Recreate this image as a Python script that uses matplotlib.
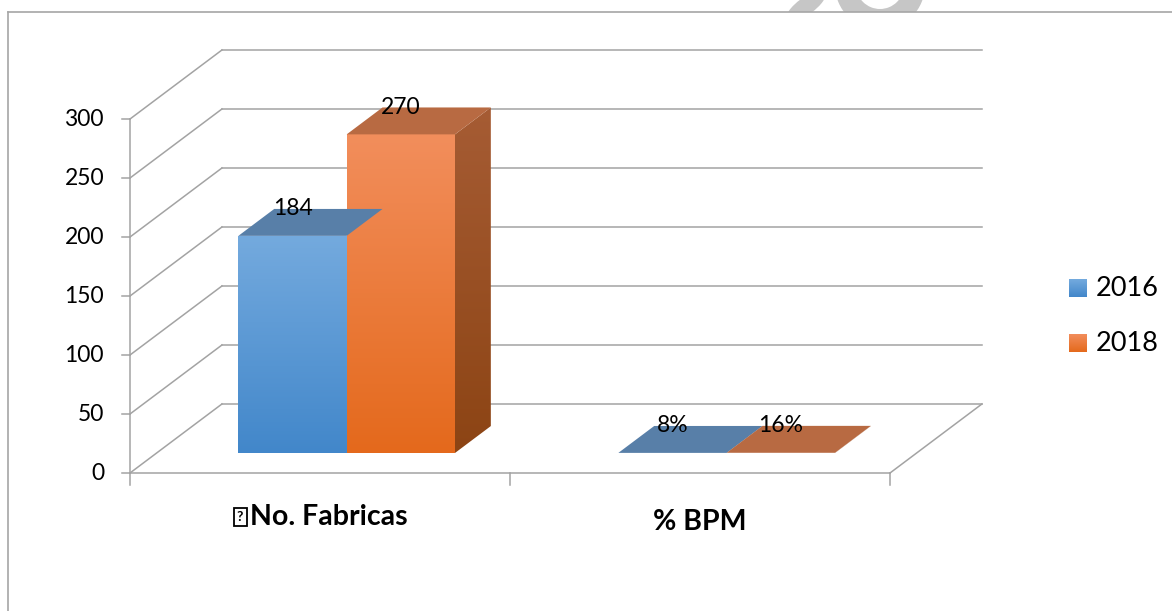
import numpy as np
import matplotlib
matplotlib.use("Agg")
from matplotlib import pyplot as plt
from matplotlib.patches import Polygon, Rectangle, Wedge, Ellipse
from matplotlib.lines import Line2D
from matplotlib.colors import to_rgb

plt.rcParams['font.family'] = ['Lato', 'DejaVu Sans']

# data
categories = ['No. Fabricas', '% BPM']
series_names = ['2016', '2018']
values = {
    '2016': [184, 0.08],
    '2018': [270, 0.16],
}
labels = {
    '2016': ['184', '8%'],
    '2018': ['270', '16%'],
}
y_ticks = [0, 50, 100, 150, 200, 250, 300]

# face colours: (front top, front bottom, top face, side top, side bottom)
palette = {
    '2016': ('#74aade', '#4287ca', '#587fa8', '#4d6f96', '#3c5e84'),
    '2018': ('#f28e5c', '#e4691c', '#b86a42', '#a65c34', '#8c4414'),
}

# oblique projection: depth d in [0, 1] shifts right and up
DX, DY = 0.242, 58.5
D0, D1 = 0.29, 0.68          # front / back of the bars
BAR_W = 0.285
GRID = '#a3a3a3'


def proj(u, v, d):
    return u + DX * d, v + DY * d


def gradient_poly(ax, verts, c_top, c_bot):
    verts = np.asarray(verts)
    x0, x1 = verts[:, 0].min(), verts[:, 0].max()
    y0, y1 = verts[:, 1].min(), verts[:, 1].max()
    t = np.linspace(0, 1, 256)[:, None]
    a, b = np.array(to_rgb(c_top)), np.array(to_rgb(c_bot))
    img = (a * (1 - t) + b * t)[:, None, :]
    poly = Polygon(verts, closed=True, fc='none', ec='none')
    ax.add_patch(poly)
    im = ax.imshow(img, extent=(x0, x1, y0, y1), aspect='auto',
                   origin='upper', interpolation='bilinear', zorder=3)
    im.set_clip_path(poly)


W, H = 1172, 611
fig = plt.figure(figsize=(W / 100, H / 100), dpi=100)

# faint watermark behind the chart frame
bg = fig.add_axes([0, 0, 1, 1], zorder=-1)
bg.set_xlim(0, W)
bg.set_ylim(H, 0)
bg.axis('off')
strip = Rectangle((0, 0), W, 12, transform=bg.transData)
for p in (Wedge((880, -15), 45, 0, 360, width=21),
          Ellipse((806, 6), 46, 17, angle=-35)):
    p.set_facecolor('#c6c6c6')
    p.set_edgecolor('none')
    bg.add_patch(p)
    p.set_clip_path(strip)

ax = fig.add_axes([0, 0, 1, 1])
ax.patch.set_alpha(0)
# front plane: u 0..2 -> x px 130..890, value 0..300 -> y px 473..119
PX_U, PX_V = 380.0, 59.0 / 50.0
X0, Y0 = 130, 473
ax.set_xlim(-X0 / PX_U, (W - X0) / PX_U)
ax.set_ylim(-(H - Y0) / PX_V, Y0 / PX_V)
ax.axis('off')


def px(x, y):
    return (x - X0) / PX_U, (Y0 - y) / PX_V


n_cat = len(categories)
ymax = y_ticks[-1]

# back wall and side wall gridlines
for v in y_ticks:
    (xa, ya), (xb, yb) = proj(0, v, 1), proj(n_cat, v, 1)
    ax.plot([xa, xb], [ya, yb], color=GRID, lw=1.1, zorder=1)
    (xc, yc) = proj(0, v, 0)
    ax.plot([xc, xa], [yc, ya], color=GRID, lw=1.1, zorder=1)
    ax.plot([xc - 8 / PX_U, xc], [yc, yc], color=GRID, lw=1.1, zorder=1)
    ax.text(-26 / PX_U, v, str(v), ha='right', va='center', fontsize=16.5)

# floor edges and value axis
fx, fy = proj(n_cat, 0, 0)
bx, by = proj(n_cat, 0, 1)
ax.plot([0, fx], [0, fy], color=GRID, lw=1.1, zorder=1)
ax.plot([fx, bx], [fy, by], color=GRID, lw=1.1, zorder=1)
ax.plot([0, 0], [0, ymax], color=GRID, lw=1.1, zorder=1)
for i in range(n_cat + 1):
    ax.plot([i, i], [0, -12 / PX_V], color=GRID, lw=1.1, zorder=1)

# bars
for i, cat in enumerate(categories):
    for j, name in enumerate(series_names):
        v = values[name][i]
        c_ft, c_fb, c_top, c_st, c_sb = palette[name]
        u0 = i + 0.5 - BAR_W + j * BAR_W
        u1 = u0 + BAR_W
        front = [proj(u0, 0, D0), proj(u1, 0, D0), proj(u1, v, D0), proj(u0, v, D0)]
        side = [proj(u1, 0, D0), proj(u1, 0, D1), proj(u1, v, D1), proj(u1, v, D0)]
        top = [proj(u0, v, D0), proj(u1, v, D0), proj(u1, v, D1), proj(u0, v, D1)]
        gradient_poly(ax, side, c_st, c_sb)
        gradient_poly(ax, front, c_ft, c_fb)
        ax.add_patch(Polygon(top, closed=True, fc=c_top, ec='none', zorder=4))
        lx, _ = proj((u0 + u1) / 2, v, D0)
        _, ly = proj((u0 + u1) / 2, v, D1)
        ax.text(lx, ly, labels[name][i], ha='center', va='center',
                fontsize=16.5, zorder=6)

# category labels; the first one starts with an unrenderable symbol box
renderer = fig.canvas.get_renderer()
cat_y = [517, 522]
for i, cat in enumerate(categories):
    _, ly = px(0, cat_y[i])
    if i == 0:
        t = ax.text(0, ly, cat, ha='left', va='center', fontsize=20.5,
                    fontweight='bold')
        tw = t.get_window_extent(renderer).width
        cx = X0 + (i + 0.5) * PX_U
        left = cx - (tw + 17) / 2
        t.set_x(px(left + 17, 0)[0])
        bx0, by0 = px(left + 1, cat_y[i] + 9)
        bx1, by1 = px(left + 14, cat_y[i] - 9)
        ax.add_patch(Rectangle((bx0, by0), bx1 - bx0, by1 - by0, fc='none',
                               ec='black', lw=1.3))
        ax.text((bx0 + bx1) / 2, (by0 + by1) / 2, '?', ha='center',
                va='center', fontsize=10, fontweight='bold')
    else:
        ax.text(i + 0.5, ly, cat, ha='center', va='center', fontsize=20.5,
                fontweight='bold')

# legend
for j, name in enumerate(series_names):
    cy = 288 + j * 55
    xa, ya = px(1069, cy + 9)
    xb, yb = px(1087, cy - 9)
    sq = [(xa, ya), (xb, ya), (xb, yb), (xa, yb)]
    gradient_poly(ax, sq, palette[name][0], palette[name][1])
    tx, ty = px(1096, cy)
    ax.text(tx, ty, name, ha='left', va='center', fontsize=19.5)

# outer frame, white inside
fig.add_artist(Rectangle((8 / W, 0), 1, 1 - 12 / H, fc='white', ec='none',
                         transform=fig.transFigure, zorder=-0.5))
fig.add_artist(Line2D([8 / W, 8 / W], [0, 1 - 12 / H], color='#a6a6a6', lw=1.2))
fig.add_artist(Line2D([8 / W, 1], [1 - 12 / H, 1 - 12 / H], color='#a6a6a6', lw=1.2))

fig.savefig('out.png', dpi=100, facecolor='white')
